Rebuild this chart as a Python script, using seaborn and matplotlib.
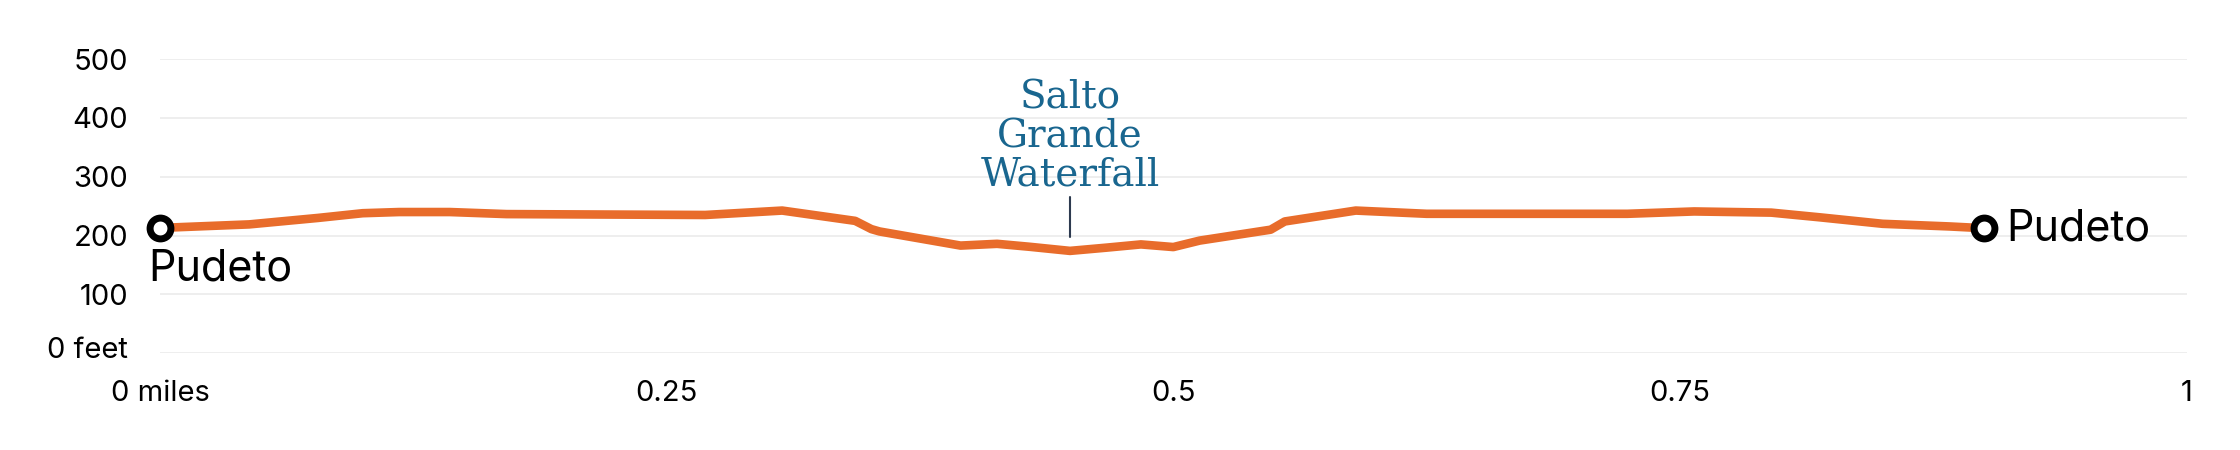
import numpy as np
import pandas as pd
import matplotlib
matplotlib.use("Agg")
import matplotlib.pyplot as plt
import matplotlib.transforms as mtransforms
import seaborn as sns

# elevation profile (miles, feet)
miles = [0.000, 0.044, 0.078, 0.100, 0.118, 0.143, 0.171, 0.269, 0.307, 0.343,
         0.351, 0.355, 0.395, 0.413, 0.429, 0.449, 0.467, 0.484, 0.500, 0.513,
         0.548, 0.555, 0.590, 0.625, 0.724, 0.757, 0.795, 0.819, 0.850, 0.883,
         0.900]
elevation = [213, 219, 230, 238, 240, 240, 236.5, 235, 242.5, 225,
             211, 207, 183, 186, 181, 174, 179.5, 185, 180.5, 191.5,
             210, 224, 242.5, 237, 237, 241, 239, 231, 220, 215.5,
             212.5]

y_ticks = [0, 100, 200, 300, 400, 500]
y_labels = ["0 feet", "100", "200", "300", "400", "500"]
x_ticks = [0, 0.25, 0.5, 0.75, 1]
x_labels = ["0 miles", "0.25", "0.5", "0.75", "1"]

waypoint_name = "Pudeto"
poi_name = "Salto\nGrande\nWaterfall"
poi_mile = 0.449

df = pd.DataFrame({"mile": miles, "elevation": elevation})

sns.set_theme(style="white")
plt.rcParams["font.family"] = ["Inter", "DejaVu Sans"]

fig = plt.figure(figsize=(22.4, 4.5), dpi=100)
ax = fig.add_axes([160 / 2240, 96.7 / 450, 2026.7 / 2240, 294.3 / 450])

sns.lineplot(data=df, x="mile", y="elevation", ax=ax, color="#e86c2b",
             linewidth=6.2, solid_capstyle="round", solid_joinstyle="round",
             zorder=3)

# start / end markers
ends = df.iloc[[0, -1]]
ax.plot(ends["mile"], ends["elevation"], "o", ms=15, mew=5,
        mfc="white", mec="black", zorder=5, clip_on=False)

ax.text(-0.006, 123, waypoint_name, fontsize=31, color="black",
        ha="left", va="baseline")
ax.text(0.911, 191, waypoint_name, fontsize=31, color="black",
        ha="left", va="baseline")

# point of interest
ax.plot([poi_mile, poi_mile], [198, 266], color="#2d3a4f", lw=1.5, zorder=4)
ax.text(poi_mile, 285, poi_name, family="DejaVu Serif", fontsize=28,
        color="#19668f", ha="center", va="baseline", multialignment="center",
        linespacing=1.05)

ax.set_xlim(0, 1)
ax.set_ylim(0, 500)
ax.set_yticks(y_ticks)
ax.set_yticklabels(y_labels)
ax.set_xticks(x_ticks)
ax.set_xticklabels(x_labels)
ax.set_xlabel("")
ax.set_ylabel("")

ax.grid(axis="y", color="#ebebeb", linewidth=1.2)
ax.grid(axis="x", visible=False)
for s in ax.spines.values():
    s.set_visible(False)

ax.tick_params(axis="y", length=0, pad=23, labelsize=21, labelcolor="black")
ax.tick_params(axis="x", length=9.5, width=1.2, color="#dfe2e8", pad=10,
               labelsize=21, labelcolor="black")

# the "0 feet" label sits a little above its gridline
lbl0 = ax.get_yticklabels()[0]
lbl0.set_transform(lbl0.get_transform() +
                   mtransforms.ScaledTranslation(0, 4 / 72, fig.dpi_scale_trans))

fig.savefig("out.png", dpi=100)
